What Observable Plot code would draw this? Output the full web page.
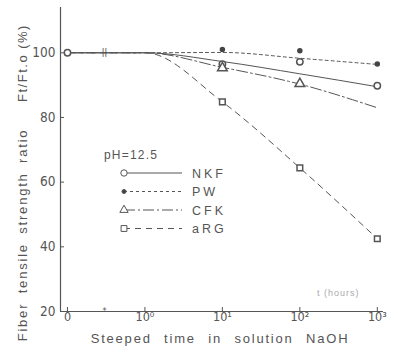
<!DOCTYPE html>
<html><head><meta charset="utf-8">
<script src="https://cdn.jsdelivr.net/npm/d3@7"></script>
<script src="https://cdn.jsdelivr.net/npm/@observablehq/plot@0.6"></script>
<style>
body{margin:0;background:#fff;}
#chart{position:relative;width:398px;height:352px;}
#chart svg{font-family:"Liberation Sans Narrow","DejaVu Sans Condensed","Liberation Sans",sans-serif;}
</style></head><body><div id="chart"></div>
<script>
// ---- data ----
const seriesNames = ["NKF", "PW", "CFK", "aRG"];
const lineTimes = [0, 1, 10, 100, 1000];
const nkfLine = [100, 100, 97.3, 93.5, 89.5];
const pwLine  = [100, 100, 100.1, 98.3, 96.4];
const cfkLine = [100, 100, 95.5, 90.3, 83];
const argLine = [100, 100, 84.8, 64.4, 42.5];
const nkfMarkTimes = [0, 10, 100, 1000];
const nkfMarks = [100, 96.5, 97.2, 89.8];
const pwMarkTimes = [10, 100, 1000];
const pwMarks = [101, 100.6, 96.5];
const cfkMarkTimes = [10, 100];
const cfkMarks = [95.3, 90.4];
const argMarkTimes = [10, 100, 1000];
const argMarks = [84.8, 64.4, 42.5];
const xTickTimes = [0, 1, 10, 100, 1000];
const xTickLabels = ["0", "10\u2070", "10\u00b9", "10\u00b2", "10\u00b3"];
const yTicks = [20, 40, 60, 80, 100];
const breakTimes = [0.3];
const phLabel = "pH=12.5";

// ---- helpers ----
const pos = t => t === 0 ? -1 : Math.log10(t);
const ink = "#555";
const lineVals = [nkfLine, pwLine, cfkLine, argLine];
const dashes = [null, "3,3", "11,3,2,3", "6,5"];
const rows = (name, ts, vs) => ts.map((t, i) => ({series: name, t, v: vs[i]}));

const lineMarks = seriesNames.map((s, k) =>
  Plot.line(rows(s, lineTimes, lineVals[k]), {
    x: d => pos(d.t), y: "v", curve: "monotone-x",
    stroke: ink, strokeWidth: 1, strokeDasharray: dashes[k]
  }));

const chart = Plot.plot({
  width: 398, height: 352,
  marginLeft: 60, marginRight: 15, marginTop: 7, marginBottom: 41,
  style: {background: "#fff", color: ink, fontSize: "13px"},
  x: {type: "linear", domain: [-1.09, 3.08]},
  y: {domain: [20, 114]},
  marks: [
    Plot.ruleY([20], {stroke: ink, strokeWidth: 1.2}),
    Plot.ruleX([-1.09], {stroke: ink, strokeWidth: 1.2}),
    Plot.axisX({ticks: xTickTimes.map(pos), tickFormat: (d, i) => xTickLabels[i],
      tickSize: -4, tickPadding: 5, fontSize: 12.5, label: null, stroke: ink, fill: ink}),
    Plot.axisY({ticks: yTicks, tickSize: -4, tickPadding: 9, fontSize: 13.5, label: null,
      stroke: ink, fill: ink}),
    ...lineMarks,
    Plot.text(breakTimes, {x: d => pos(d), y: 100, text: () => "||", fill: ink, fontSize: 8, fontWeight: "bold"}),
    Plot.text(breakTimes, {x: d => pos(d), y: 20, text: () => "*", fill: ink, fontSize: 9}),
    Plot.dot(rows("NKF", nkfMarkTimes, nkfMarks), {x: d => pos(d.t), y: "v", r: 3.2, fill: "#fff", stroke: ink}),
    Plot.dot(rows("PW", pwMarkTimes, pwMarks), {x: d => pos(d.t), y: "v", r: 2, fill: "#444", stroke: "#444"}),
    Plot.dot(rows("CFK", cfkMarkTimes, cfkMarks), {x: d => pos(d.t), y: "v", r: 3.6, symbol: "triangle", fill: "#fff", stroke: ink}),
    Plot.dot(rows("aRG", argMarkTimes, argMarks), {x: d => pos(d.t), y: "v", r: 3.2, symbol: "square", fill: "#fff", stroke: ink})
  ]
});
document.getElementById("chart").appendChild(chart);

// ---- titles and legend overlay ----
const svg = d3.select(chart);
const g = svg.append("g").attr("fill", ink).attr("text-anchor", "start")
  .attr("font-family", "'Liberation Sans','DejaVu Sans',sans-serif");
g.append("text").attr("transform", "translate(27,235) rotate(-90)").attr("text-anchor", "middle")
  .attr("font-size", 13).attr("letter-spacing", 1.8).attr("word-spacing", 4)
  .text("Fiber tensile strength ratio");
g.append("text").attr("transform", "translate(27,63) rotate(-90)").attr("text-anchor", "middle")
  .attr("font-size", 13).attr("letter-spacing", 1.5)
  .text("Ft/Ft.o (%)");
g.append("text").attr("x", 220).attr("y", 343).attr("text-anchor", "middle")
  .attr("font-size", 13).attr("letter-spacing", 1.8).attr("word-spacing", 7)
  .text("Steeped time in solution NaOH");
g.append("text").attr("x", 317).attr("y", 296).attr("text-anchor", "start")
  .attr("font-size", 9).attr("fill", "#aaa").attr("letter-spacing", 1)
  .text("t (hours)");
g.append("text").attr("x", 104).attr("y", 159).attr("text-anchor", "start")
  .attr("font-size", 12).attr("letter-spacing", 1.2)
  .text(phLabel);

const symbols = [d3.symbolCircle, d3.symbolCircle, d3.symbolTriangle, d3.symbolSquare];
const symSize = [32, 13, 30, 34];
const symFill = ["#fff", "#444", "#fff", "#fff"];
seriesNames.forEach((s, k) => {
  const yy = 173 + k * 18.5;
  const row = g.append("g");
  row.append("line").attr("x1", 124).attr("x2", 182).attr("y1", yy).attr("y2", yy)
    .attr("stroke", ink).attr("stroke-width", 1).attr("stroke-dasharray", dashes[k]);
  row.append("path").attr("d", d3.symbol(symbols[k], symSize[k])())
    .attr("transform", `translate(124,${yy})`).attr("fill", symFill[k]).attr("stroke", ink);
  row.append("text").attr("x", 192).attr("y", yy + 4.5).attr("text-anchor", "start")
    .attr("font-size", 12.5).attr("letter-spacing", 3).text(s);
});
</script></body></html>
